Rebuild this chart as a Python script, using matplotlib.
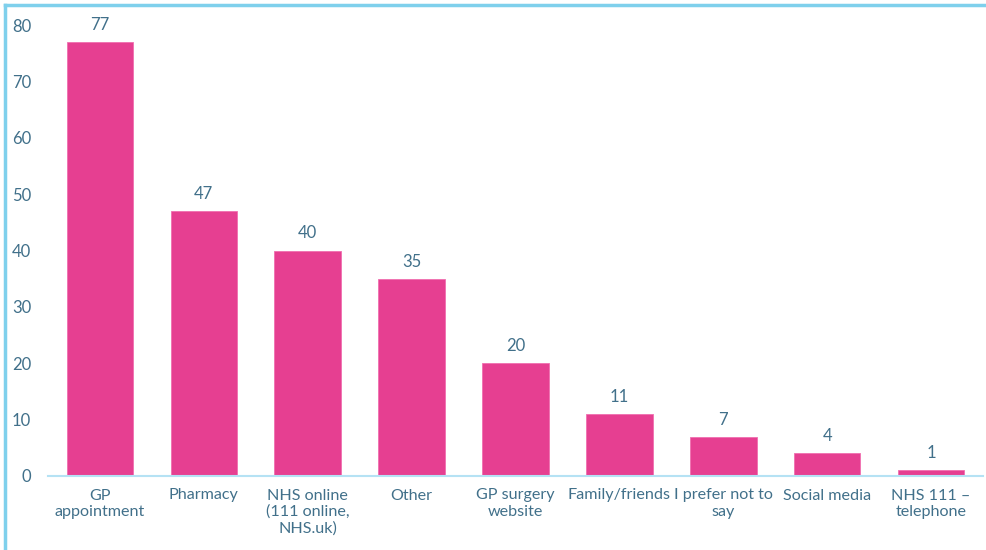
import matplotlib
matplotlib.use("Agg")
import matplotlib.pyplot as plt
from matplotlib.lines import Line2D

categories = ["GP\nappointment", "Pharmacy", "NHS online\n(111 online,\nNHS.uk)", "Other",
              "GP surgery\nwebsite", "Family/friends", "I prefer not to\nsay", "Social media",
              "NHS 111 –\ntelephone"]
values = [77, 47, 40, 35, 20, 11, 7, 4, 1]
yticks = [0, 10, 20, 30, 40, 50, 60, 70, 80]

plt.rcParams['font.family'] = ['Lato', 'DejaVu Sans']
text_color = "#41708a"
bar_color = "#e63f91"
frame_color = "#7fd0ec"

fig = plt.figure(figsize=(9.87, 5.5), dpi=100)
ax = fig.add_axes([48/987, 1-476/550, (983-48)/987, (476-25)/550])

x = range(len(categories))
bars = ax.bar(x, values, width=0.64, color=bar_color, edgecolor="#f06fb0", linewidth=0.6, zorder=2)
for xi, v in zip(x, values):
    ax.text(xi, v + 1.6, str(v), ha="center", va="bottom", fontsize=12, color=text_color)

ax.set_xlim(-0.5, len(categories) - 0.5)
ax.set_ylim(0, 80)
ax.set_yticks(yticks)
ax.set_yticklabels([str(t) for t in yticks], fontsize=12, color=text_color)
ax.set_xticks(list(x))
ax.set_xticklabels(categories, fontsize=11.6, color=text_color, linespacing=1.2)
ax.tick_params(axis="both", length=0)
ax.tick_params(axis="x", pad=9)
ax.tick_params(axis="y", pad=12)
for s in ["top", "right", "left"]:
    ax.spines[s].set_visible(False)
ax.spines["bottom"].set_color("#b5e2f4")
ax.spines["bottom"].set_linewidth(1.5)

# outer frame along the top and left edges
fig.add_artist(Line2D([5/987, 1], [1-5/550, 1-5/550], transform=fig.transFigure,
                      color=frame_color, linewidth=2.5))
fig.add_artist(Line2D([5/987, 5/987], [0, 1-5/550], transform=fig.transFigure,
                      color=frame_color, linewidth=2.5))

fig.savefig("out.png", dpi=100)
